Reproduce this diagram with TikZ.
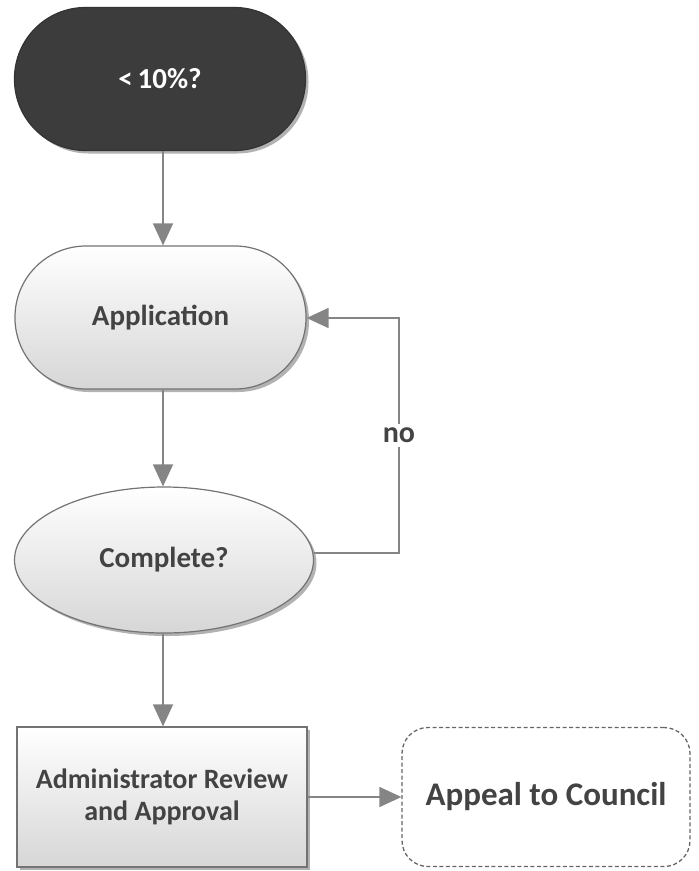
\documentclass[tikz,border=0pt]{standalone}
\usepackage{fontspec}
\setmainfont{Carlito}
\usetikzlibrary{arrows.meta,shapes.geometric,shadows}
\definecolor{linegray}{HTML}{858585}
\definecolor{txtgray}{HTML}{434343}
\definecolor{darkfill}{HTML}{3C3C3C}
\tikzset{
  stadium/.style={draw=#1, line width=1.2pt, rounded corners=71pt, minimum width=291pt, minimum height=143pt, inner sep=0pt, font=\bfseries\fontsize{29}{34}\selectfont},
  lightfill/.style={top color=white, bottom color=black!16, text=txtgray},
  conn/.style={draw=linegray, line width=1.6pt, -{Triangle[length=22pt,width=20pt]}, color=linegray},
  pshadow/.style={drop shadow={shadow xshift=3pt, shadow yshift=-3pt, opacity=0.3, fill=black}}
}
\begin{document}
\begin{tikzpicture}[x=1pt,y=-1pt]
\useasboundingbox (0,0) rectangle (699,871);
\node[stadium=black!80, fill=darkfill, text=white, pshadow] (start) at (160,79) {<\,10\%?};
\node[stadium=black!55, lightfill, pshadow] (app) at (160.5,317.5) {Application};
\node[ellipse, draw=black!55, line width=1.2pt, lightfill, pshadow, minimum width=299pt, minimum height=146pt, inner sep=0pt, font=\bfseries\fontsize{29}{34}\selectfont] (comp) at (164,560) {Complete?};
\node[rectangle, draw=black!55, line width=1.2pt, lightfill, pshadow, minimum width=290pt, minimum height=140pt, inner sep=0pt, align=center, font=\bfseries\fontsize{28}{32}\selectfont] (admin) at (162,797) {Administrator Review\\and Approval};
\node[rectangle, rounded corners=26pt, draw=black!60, dash pattern=on 4pt off 2.5pt, line width=1.3pt, minimum width=288pt, minimum height=139pt, inner sep=0pt, text=txtgray, font=\fontsize{33}{38}\selectfont\bfseries] (appeal) at (546,797) {Appeal to Council};
\draw[conn] (start.south -| 163,0) -- (app.north -| 163,0);
\draw[conn] (app.south -| 163,0) -- (comp.north -| 163,0);
\draw[conn] (comp.south -| 163,0) -- (admin.north -| 163,0);
\coordinate (c1) at (399,553);
\coordinate (c2) at (399,318);
\draw[conn] (comp.east |- c1) -- (c1) -- node[fill=white, text=txtgray, font=\bfseries\fontsize{30}{34}\selectfont, inner sep=4pt] {no} (c2) -- (app.east |- c2);
\draw[conn] (admin.east) -- (appeal.west);
\end{tikzpicture}
\end{document}
